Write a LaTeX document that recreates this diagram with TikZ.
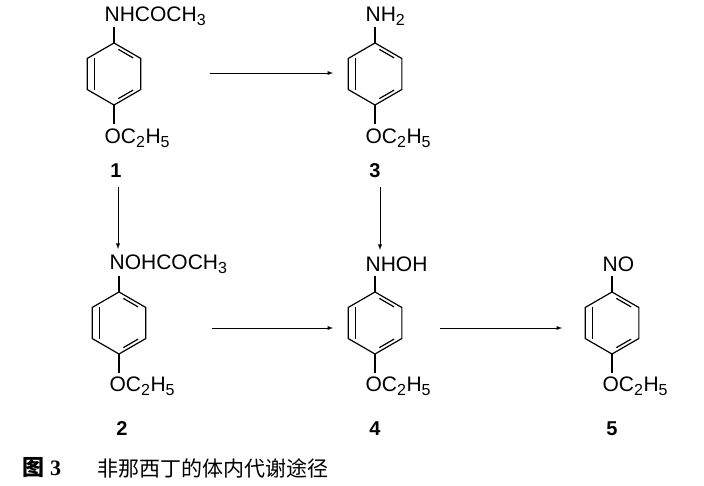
\documentclass[tikz,border=0pt]{standalone}
\usepackage{fontspec}
\setmainfont{Liberation Sans}
\newfontfamily\cjk{Noto Sans CJK SC}
\newfontfamily\capserif{Liberation Serif}
\begin{document}
\begin{tikzpicture}[x=1pt,y=-1pt,line width=1.2pt,
  lab/.style={anchor=west,font=\fontsize{21}{21}\selectfont,inner sep=0},
  num/.style={font=\bfseries\fontsize{20}{20}\selectfont,inner sep=0},
  arr/.style={-latex,line width=0.9pt}]
\useasboundingbox (0,0) rectangle (704,486);
\newcommand\benz[2]{%
 \begin{scope}[shift={(#1,#2)}]
  \draw (90:31)--(30:31)--(-30:31)--(-90:31)--(-150:31)--(150:31)--cycle;
  \draw (80:25)--(40:25); \draw (-40:25)--(-80:25); \draw (-140:25)--(140:25);
  \draw (0,-31)--(0,-47); \draw (0,31)--(0,50);
 \end{scope}}
\newcommand\sub[1]{\textsubscript{\fontsize{16}{16}\selectfont #1}}
\benz{114}{74}
\benz{375}{74}
\benz{119}{323}
\benz{375}{323}
\benz{612}{323}
\node[lab] (s1) at (104,16) {NHCOCH\sub{3}};
\node[lab] (o1) at (104,138) {OC\sub{2}H\sub{5}};
\node[lab] (s3) at (365,16) {NH\sub{2}};
\node[lab] (o3) at (365,138) {OC\sub{2}H\sub{5}};
\node[lab] (s2) at (109,264) {NOHCOCH\sub{3}};
\node[lab] (o2) at (109,386) {OC\sub{2}H\sub{5}};
\node[lab] (s4) at (365,264) {NHOH};
\node[lab] (o4) at (365,386) {OC\sub{2}H\sub{5}};
\node[lab] (s5) at (602,264) {NO};
\node[lab] (o5) at (602,386) {OC\sub{2}H\sub{5}};
\node[num] (n1) at (116,171) {1};
\node[num] (n3) at (375,171) {3};
\node[num] (n2) at (122,429) {2};
\node[num] (n4) at (375,429) {4};
\node[num] (n5) at (612,429) {5};
\coordinate (a1) at (210,73); \coordinate (b1) at (333,73);
\coordinate (a2) at (118,187); \coordinate (b2) at (118,249);
\coordinate (a3) at (380,187); \coordinate (b3) at (380,250);
\coordinate (a4) at (212,328); \coordinate (b4) at (333,328);
\coordinate (a5) at (440,328); \coordinate (b5) at (562,328);
\foreach \i in {1,...,5} \draw[arr] (a\i)--(b\i);
\node[anchor=west,inner sep=0,font=\capserif\bfseries\fontsize{22}{22}\selectfont] (fig) at (22,468) {\cjk 图\capserif\ 3};
\node[anchor=west,inner sep=0,font=\cjk\fontsize{21}{21}\selectfont] (cap) at (97,468) {非那西丁的体内代谢途径};
\end{tikzpicture}
\end{document}
